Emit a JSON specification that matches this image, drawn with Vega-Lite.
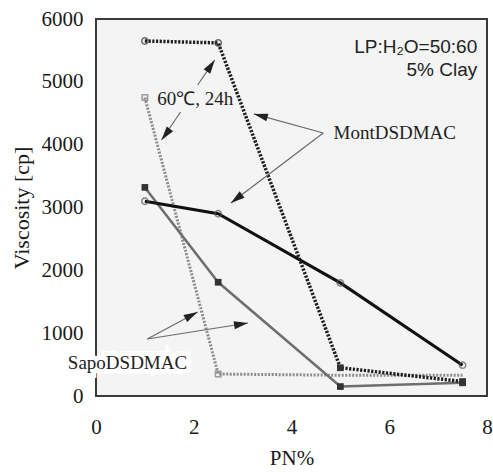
{
  "$schema": "https://vega.github.io/schema/vega-lite/v6.json",
  "width": 391,
  "height": 377,
  "autosize": {"type": "none"},
  "padding": {"left": 96, "top": 19, "right": 6, "bottom": 76},
  "background": "white",
  "config": {
    "view": {"stroke": "#3a3a3a", "strokeWidth": 2, "fill": "#f4f4f4"},
    "axis": {"ticks": false, "domain": false, "grid": false, "labelFont": "Liberation Serif", "labelFontSize": 21, "labelColor": "#1a1a1a", "titleFont": "Liberation Serif", "titleFontSize": 21, "titleFontWeight": "normal", "titleColor": "#1a1a1a", "labelFlush": false}
  },
  "datasets": {
    "series": [
      {"series": "MontHeat", "pn": 1, "visc": 5650},
      {"series": "MontHeat", "pn": 2.5, "visc": 5620},
      {"series": "MontHeat", "pn": 5, "visc": 450},
      {"series": "MontHeat", "pn": 7.5, "visc": 230},
      {"series": "SapoHeat", "pn": 1, "visc": 4750},
      {"series": "SapoHeat", "pn": 2.5, "visc": 350},
      {"series": "SapoHeat", "pn": 5, "visc": 330},
      {"series": "SapoHeat", "pn": 7.5, "visc": 330},
      {"series": "Mont", "pn": 1, "visc": 3100},
      {"series": "Mont", "pn": 2.5, "visc": 2900},
      {"series": "Mont", "pn": 5, "visc": 1800},
      {"series": "Mont", "pn": 7.5, "visc": 490},
      {"series": "Sapo", "pn": 1, "visc": 3320},
      {"series": "Sapo", "pn": 2.5, "visc": 1810},
      {"series": "Sapo", "pn": 5, "visc": 150},
      {"series": "Sapo", "pn": 7.5, "visc": 210}
    ],
    "arrows": [
      {"pn": 4.65, "visc": 4186, "pn2": 3.23, "visc2": 4490, "angle": 285},
      {"pn": 4.65, "visc": 4186, "pn2": 2.76, "visc2": 3073, "angle": 233},
      {"pn": 2.08, "visc": 4950, "pn2": 2.43, "visc2": 5348, "angle": 34},
      {"pn": 1.73, "visc": 4520, "pn2": 1.34, "visc2": 4074, "angle": 217},
      {"pn": 1.05, "visc": 907, "pn2": 2.08, "visc2": 1337, "angle": 62},
      {"pn": 1.05, "visc": 907, "pn2": 3.11, "visc2": 1162, "angle": 81}
    ],
    "serifNotes": [
      {"pn": 4.86, "visc": 4186, "label": "MontDSDMAC"},
      {"pn": 1.255, "visc": 4727, "label": "60℃, 24h"},
      {"pn": -0.576, "visc": 525, "label": "SapoDSDMAC"}
    ],
    "sansNotes": [
      {"pn": 7.8, "visc": 5560, "label": "LP:H₂O=50:60"},
      {"pn": 7.8, "visc": 5190, "label": "5% Clay"}
    ]
  },
  "encoding": {
    "x": {"field": "pn", "type": "quantitative", "scale": {"domain": [0, 8], "nice": false, "zero": false},
      "axis": {"title": "PN%", "values": [0, 2, 4, 6, 8], "labelPadding": 20, "titlePadding": 10}},
    "y": {"field": "visc", "type": "quantitative", "scale": {"domain": [0, 6000], "nice": false},
      "axis": {"title": "Viscosity [cp]", "format": "d", "values": [0, 1000, 2000, 3000, 4000, 5000, 6000], "labelPadding": 13, "titlePadding": 8, "titleFontSize": 22}}
  },
  "layer": [
    {"data": {"name": "series"}, "transform": [{"filter": "datum.series == 'SapoHeat'"}],
     "mark": {"type": "line", "color": "#8c8c8c", "strokeWidth": 3, "strokeDash": [2, 1.5]}},
    {"data": {"name": "series"}, "transform": [{"filter": "datum.series == 'Sapo'"}],
     "mark": {"type": "line", "color": "#6e6e6e", "strokeWidth": 2.5}},
    {"data": {"name": "series"}, "transform": [{"filter": "datum.series == 'MontHeat'"}],
     "mark": {"type": "line", "color": "#1e1e1e", "strokeWidth": 3.5, "strokeDash": [2.2, 1.5]}},
    {"data": {"name": "series"}, "transform": [{"filter": "datum.series == 'Mont'"}],
     "mark": {"type": "line", "color": "#111111", "strokeWidth": 3}},
    {"data": {"name": "series"}, "transform": [{"filter": "datum.series == 'SapoHeat' && datum.pn < 5"}],
     "mark": {"type": "point", "shape": "square", "size": 30, "filled": false, "color": "#777", "strokeWidth": 1.5}},
    {"data": {"name": "series"}, "transform": [{"filter": "datum.series == 'Sapo'"}],
     "mark": {"type": "point", "shape": "square", "size": 45, "filled": true, "color": "#333", "opacity": 1}},
    {"data": {"name": "series"}, "transform": [{"filter": "datum.series == 'MontHeat' && datum.pn < 5"}],
     "mark": {"type": "point", "shape": "circle", "size": 40, "filled": false, "color": "#333", "strokeWidth": 1.5}},
    {"data": {"name": "series"}, "transform": [{"filter": "datum.series == 'MontHeat' && datum.pn >= 5"}],
     "mark": {"type": "point", "shape": "square", "size": 45, "filled": true, "color": "#333", "opacity": 1}},
    {"data": {"name": "series"}, "transform": [{"filter": "datum.series == 'Mont'"}],
     "mark": {"type": "point", "shape": "circle", "size": 40, "filled": false, "color": "#555", "strokeWidth": 1.5}},
    {"data": {"name": "arrows"},
     "mark": {"type": "rule", "color": "#6a6a6a", "strokeWidth": 1.2},
     "encoding": {"x2": {"field": "pn2"}, "y2": {"field": "visc2"}}},
    {"data": {"name": "arrows"},
     "mark": {"type": "point", "shape": "M0,0L0.8,2.8L-0.8,2.8Z", "size": 100, "filled": true, "color": "#222", "opacity": 1},
     "encoding": {"x": {"field": "pn2", "type": "quantitative"}, "y": {"field": "visc2", "type": "quantitative"},
       "angle": {"field": "angle", "type": "quantitative", "scale": null}}},
    {"data": {"name": "serifNotes"}, "transform": [{"filter": "datum.label == 'SapoDSDMAC'"}],
     "mark": {"type": "text", "align": "left", "baseline": "middle", "font": "Liberation Serif", "fontSize": 19, "stroke": "white", "strokeWidth": 10, "color": "white", "clip": false},
     "encoding": {"text": {"field": "label"}}},
    {"data": {"name": "serifNotes"},
     "mark": {"type": "text", "align": "left", "baseline": "middle", "font": "Liberation Serif", "fontSize": 19, "color": "#222", "clip": false},
     "encoding": {"text": {"field": "label"}}},
    {"data": {"name": "sansNotes"},
     "mark": {"type": "text", "align": "right", "baseline": "middle", "font": "Liberation Sans", "fontSize": 19, "color": "#222"},
     "encoding": {"text": {"field": "label"}}}
  ]
}
